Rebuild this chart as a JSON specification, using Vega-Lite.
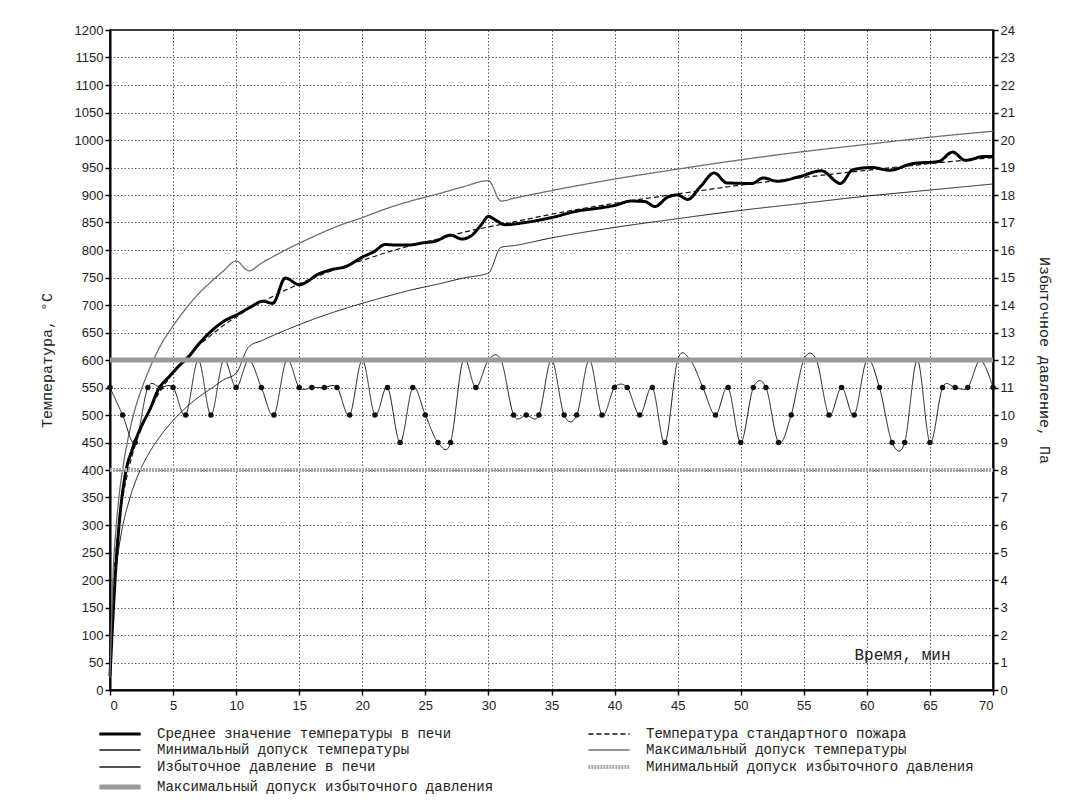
{
  "$schema": "https://vega.github.io/schema/vega-lite/v6.json",
  "width": 883,
  "height": 660,
  "autosize": {"type": "none"},
  "padding": {"left": 110, "top": 30, "right": 82, "bottom": 117},
  "background": "white",
  "datasets": {
    "series": [
      {"s": "a", "name": "Среднее значение температуры в печи"},
      {"s": "b", "name": "Температура стандартного пожара"},
      {"s": "c", "name": "Минимальный допуск температуры"},
      {"s": "d", "name": "Максимальный допуск температуры"},
      {"s": "e", "name": "Избыточное давление в печи"},
      {"s": "f", "name": "Минимальный допуск избыточного давления"},
      {"s": "g", "name": "Максимальный допуск избыточного давления"}
    ],
    "rows": [
      {"s":"a","t":0,"v":25},{"s":"a","t":0.4,"v":200},{"s":"a","t":0.8,"v":320},{"s":"a","t":1.2,"v":390},{"s":"a","t":1.8,"v":440},{"s":"a","t":2.5,"v":480},{"s":"a","t":3.2,"v":512},{"s":"a","t":3.8,"v":545},{"s":"a","t":4.7,"v":570},{"s":"a","t":5.5,"v":590},{"s":"a","t":6.2,"v":605},{"s":"a","t":7,"v":628},{"s":"a","t":8.1,"v":654},{"s":"a","t":9,"v":670},{"s":"a","t":10.2,"v":684},{"s":"a","t":11.2,"v":697},{"s":"a","t":12.1,"v":707},{"s":"a","t":12.9,"v":703},{"s":"a","t":13.9,"v":749},{"s":"a","t":15,"v":737},{"s":"a","t":16.6,"v":757},{"s":"a","t":17.5,"v":764},{"s":"a","t":18.7,"v":770},{"s":"a","t":20,"v":787},{"s":"a","t":21,"v":798},{"s":"a","t":21.8,"v":810},{"s":"a","t":22.7,"v":809},{"s":"a","t":23.7,"v":809},{"s":"a","t":24.8,"v":813},{"s":"a","t":25.8,"v":816},{"s":"a","t":27,"v":827},{"s":"a","t":27.9,"v":820},{"s":"a","t":28.7,"v":827},{"s":"a","t":29.4,"v":845},{"s":"a","t":30,"v":861},{"s":"a","t":30.6,"v":854},{"s":"a","t":31.3,"v":846},{"s":"a","t":32.9,"v":850},{"s":"a","t":35,"v":859},{"s":"a","t":37.1,"v":871},{"s":"a","t":39,"v":877},{"s":"a","t":40,"v":881},{"s":"a","t":41.3,"v":889},{"s":"a","t":42.4,"v":888},{"s":"a","t":43.2,"v":879},{"s":"a","t":44.2,"v":896},{"s":"a","t":45,"v":900},{"s":"a","t":45.8,"v":892},{"s":"a","t":46.8,"v":915},{"s":"a","t":47.9,"v":940},{"s":"a","t":48.9,"v":922},{"s":"a","t":50.9,"v":921},{"s":"a","t":51.8,"v":931},{"s":"a","t":52.9,"v":925},{"s":"a","t":54.6,"v":933},{"s":"a","t":56.4,"v":944},{"s":"a","t":57.9,"v":921},{"s":"a","t":58.9,"v":946},{"s":"a","t":60.4,"v":950},{"s":"a","t":61.8,"v":945},{"s":"a","t":63.6,"v":957},{"s":"a","t":65.7,"v":961},{"s":"a","t":66.8,"v":978},{"s":"a","t":67.8,"v":963},{"s":"a","t":69.3,"v":970},{"s":"a","t":70,"v":970},

      {"s":"b","t":0,"v":20},{"s":"b","t":0.25,"v":185},{"s":"b","t":0.5,"v":261},{"s":"b","t":0.75,"v":312},{"s":"b","t":1,"v":349},{"s":"b","t":1.5,"v":404},{"s":"b","t":2,"v":445},{"s":"b","t":2.5,"v":476},{"s":"b","t":3,"v":502},{"s":"b","t":4,"v":544},{"s":"b","t":5,"v":576},{"s":"b","t":6,"v":603},{"s":"b","t":7,"v":626},{"s":"b","t":8,"v":645},{"s":"b","t":9,"v":663},{"s":"b","t":10,"v":678},{"s":"b","t":11,"v":693},{"s":"b","t":12,"v":705},{"s":"b","t":14,"v":728},{"s":"b","t":16,"v":748},{"s":"b","t":18,"v":766},{"s":"b","t":20,"v":781},{"s":"b","t":22,"v":796},{"s":"b","t":24,"v":809},{"s":"b","t":26,"v":820},{"s":"b","t":28,"v":832},{"s":"b","t":30,"v":842},{"s":"b","t":32,"v":851},{"s":"b","t":35,"v":865},{"s":"b","t":40,"v":885},{"s":"b","t":45,"v":902},{"s":"b","t":50,"v":918},{"s":"b","t":55,"v":932},{"s":"b","t":60,"v":945},{"s":"b","t":65,"v":957},{"s":"b","t":70,"v":968},

      {"s":"c","t":0,"v":17},{"s":"c","t":0.25,"v":157},{"s":"c","t":0.5,"v":222},{"s":"c","t":0.75,"v":265},{"s":"c","t":1,"v":297},{"s":"c","t":1.5,"v":343},{"s":"c","t":2,"v":378},{"s":"c","t":2.5,"v":405},{"s":"c","t":3,"v":427},{"s":"c","t":4,"v":462},{"s":"c","t":5,"v":490},{"s":"c","t":6,"v":513},{"s":"c","t":7,"v":532},{"s":"c","t":8,"v":548},{"s":"c","t":9,"v":564},{"s":"c","t":10,"v":576},{"s":"c","t":11,"v":624},{"s":"c","t":12,"v":635},{"s":"c","t":14,"v":655},{"s":"c","t":16,"v":673},{"s":"c","t":18,"v":689},{"s":"c","t":20,"v":703},{"s":"c","t":22,"v":716},{"s":"c","t":24,"v":728},{"s":"c","t":26,"v":738},{"s":"c","t":28,"v":749},{"s":"c","t":30,"v":758},{"s":"c","t":31,"v":805},{"s":"c","t":32,"v":808},{"s":"c","t":35,"v":822},{"s":"c","t":40,"v":841},{"s":"c","t":45,"v":857},{"s":"c","t":50,"v":872},{"s":"c","t":55,"v":885},{"s":"c","t":60,"v":898},{"s":"c","t":65,"v":909},{"s":"c","t":70,"v":920},

      {"s":"d","t":0,"v":23},{"s":"d","t":0.25,"v":213},{"s":"d","t":0.5,"v":300},{"s":"d","t":0.75,"v":359},{"s":"d","t":1,"v":401},{"s":"d","t":1.5,"v":465},{"s":"d","t":2,"v":512},{"s":"d","t":2.5,"v":547},{"s":"d","t":3,"v":577},{"s":"d","t":4,"v":626},{"s":"d","t":5,"v":662},{"s":"d","t":6,"v":693},{"s":"d","t":7,"v":720},{"s":"d","t":8,"v":742},{"s":"d","t":9,"v":762},{"s":"d","t":10,"v":780},{"s":"d","t":11,"v":762},{"s":"d","t":12,"v":776},{"s":"d","t":14,"v":801},{"s":"d","t":16,"v":823},{"s":"d","t":18,"v":843},{"s":"d","t":20,"v":859},{"s":"d","t":22,"v":876},{"s":"d","t":24,"v":890},{"s":"d","t":26,"v":902},{"s":"d","t":28,"v":915},{"s":"d","t":30,"v":926},{"s":"d","t":31,"v":889},{"s":"d","t":32,"v":894},{"s":"d","t":35,"v":908},{"s":"d","t":40,"v":929},{"s":"d","t":45,"v":947},{"s":"d","t":50,"v":964},{"s":"d","t":55,"v":979},{"s":"d","t":60,"v":992},{"s":"d","t":65,"v":1005},{"s":"d","t":70,"v":1016},

      {"s":"e","t":0,"v":11},{"s":"e","t":1,"v":10},{"s":"e","t":2,"v":9},{"s":"e","t":3,"v":11},{"s":"e","t":4,"v":11},{"s":"e","t":5,"v":11},{"s":"e","t":6,"v":10},{"s":"e","t":7,"v":12},{"s":"e","t":8,"v":10},{"s":"e","t":9,"v":12},{"s":"e","t":10,"v":11},{"s":"e","t":11,"v":12},{"s":"e","t":12,"v":11},{"s":"e","t":13,"v":10},{"s":"e","t":14,"v":12},{"s":"e","t":15,"v":11},{"s":"e","t":16,"v":11},{"s":"e","t":17,"v":11},{"s":"e","t":18,"v":11},{"s":"e","t":19,"v":10},{"s":"e","t":20,"v":12},{"s":"e","t":21,"v":10},{"s":"e","t":22,"v":11},{"s":"e","t":23,"v":9},{"s":"e","t":24,"v":11},{"s":"e","t":25,"v":10},{"s":"e","t":26,"v":9},{"s":"e","t":27,"v":9},{"s":"e","t":28,"v":12},{"s":"e","t":29,"v":11},{"s":"e","t":30,"v":12},{"s":"e","t":31,"v":12},{"s":"e","t":32,"v":10},{"s":"e","t":33,"v":10},{"s":"e","t":34,"v":10},{"s":"e","t":35,"v":12},{"s":"e","t":36,"v":10},{"s":"e","t":37,"v":10},{"s":"e","t":38,"v":12},{"s":"e","t":39,"v":10},{"s":"e","t":40,"v":11},{"s":"e","t":41,"v":11},{"s":"e","t":42,"v":10},{"s":"e","t":43,"v":11},{"s":"e","t":44,"v":9},{"s":"e","t":45,"v":12},{"s":"e","t":46,"v":12},{"s":"e","t":47,"v":11},{"s":"e","t":48,"v":10},{"s":"e","t":49,"v":11},{"s":"e","t":50,"v":9},{"s":"e","t":51,"v":11},{"s":"e","t":52,"v":11},{"s":"e","t":53,"v":9},{"s":"e","t":54,"v":10},{"s":"e","t":55,"v":12},{"s":"e","t":56,"v":12},{"s":"e","t":57,"v":10},{"s":"e","t":58,"v":11},{"s":"e","t":59,"v":10},{"s":"e","t":60,"v":12},{"s":"e","t":61,"v":11},{"s":"e","t":62,"v":9},{"s":"e","t":63,"v":9},{"s":"e","t":64,"v":12},{"s":"e","t":65,"v":9},{"s":"e","t":66,"v":11},{"s":"e","t":67,"v":11},{"s":"e","t":68,"v":11},{"s":"e","t":69,"v":12},{"s":"e","t":70,"v":11},

      {"s":"f","t":0,"v":8},{"s":"f","t":70,"v":8},
      {"s":"g","t":0,"v":12},{"s":"g","t":70,"v":12}
    ]
  },
  "data": {"name": "rows"},
  "transform": [
    {"lookup": "s", "from": {"data": {"name": "series"}, "key": "s", "fields": ["name"]}}
  ],
  "encoding": {
    "x": {
      "field": "t", "type": "quantitative",
      "scale": {"domain": [0, 70], "nice": false, "zero": false},
      "axis": {
        "values": [0,5,10,15,20,25,30,35,40,45,50,55,60,65,70],
        "grid": true,
        "title": "Время, мин",
        "titleX": 792, "titleY": -36, "titleAlign": "center", "titleBaseline": "middle",
        "titleFontSize": 16,
        "labelPadding": 4
      }
    }
  },
  "layer": [
    {
      "encoding": {
        "y": {
          "field": "v", "type": "quantitative",
          "scale": {"domain": [0, 1200], "nice": false},
          "axis": {
            "orient": "left",
            "values": [0,50,100,150,200,250,300,350,400,450,500,550,600,650,700,750,800,850,900,950,1000,1050,1100,1150,1200],
            "format": "d",
            "grid": true,
            "title": "Температура, °С",
            "titleFontSize": 15,
            "titlePadding": 20
          }
        },
        "color": {"field": "name", "type": "nominal",
          "scale": {"domain": ["Среднее значение температуры в печи","Минимальный допуск температуры","Избыточное давление в печи","Максимальный допуск избыточного давления","Температура стандартного пожара","Максимальный допуск температуры","Минимальный допуск избыточного давления"],
                    "range": ["#000000","#1a1a1a","#1a1a1a","#9a9a9a","#111111","#6e6e6e","#a8a8a8"]},
          "legend": {
            "title": null,
            "encode": {"symbols": {"update": {"strokeWidth": {"signal": "datum.value == 'Среднее значение температуры в печи' ? 3 : datum.value == 'Максимальный допуск избыточного давления' ? 5 : datum.value == 'Минимальный допуск избыточного давления' ? 4 : 1.3"}}}}
          }},
        "strokeDash": {"field": "name", "type": "nominal",
          "scale": {"domain": ["Среднее значение температуры в печи","Минимальный допуск температуры","Избыточное давление в печи","Максимальный допуск избыточного давления","Температура стандартного пожара","Максимальный допуск температуры","Минимальный допуск избыточного давления"],
                    "range": [[1,0],[1,0],[1,0],[1,0],[5,3],[1,0],[2,1]]},
          "legend": {"title": null}}
      },
      "layer": [
        {"transform": [{"filter": "datum.s == 'a'"}], "mark": {"type": "line", "interpolate": "monotone", "strokeWidth": 3}},
        {"transform": [{"filter": "datum.s == 'b'"}], "mark": {"type": "line", "interpolate": "monotone", "strokeWidth": 1.2}},
        {"transform": [{"filter": "datum.s == 'c'"}], "mark": {"type": "line", "interpolate": "monotone", "strokeWidth": 1}},
        {"transform": [{"filter": "datum.s == 'd'"}], "mark": {"type": "line", "interpolate": "monotone", "strokeWidth": 1.3}}
      ]
    },
    {
      "transform": [{"filter": "indexof(['e','f','g'], datum.s) >= 0"}],
      "encoding": {
        "y": {
          "field": "v", "type": "quantitative",
          "scale": {"domain": [0, 24], "nice": false},
          "axis": {
            "orient": "right",
            "values": [0,1,2,3,4,5,6,7,8,9,10,11,12,13,14,15,16,17,18,19,20,21,22,23,24],
            "grid": false,
            "title": "Избыточное давление, Па",
            "titleFontSize": 15,
            "titlePadding": 22
          }
        }
      },
      "layer": [
        {
          "transform": [{"filter": "datum.s == 'e'"}],
          "mark": {"type": "line", "interpolate": "cardinal", "strokeWidth": 1},
          "encoding": {
            "color": {"field": "name", "type": "nominal", "legend": {"title": null}},
            "strokeDash": {"field": "name", "type": "nominal", "legend": {"title": null}}
          }
        },
        {
          "transform": [{"filter": "datum.s == 'e' && datum.v < 12"}],
          "mark": {"type": "point", "filled": true, "color": "#111111", "size": 30, "opacity": 1},
          "encoding": {}
        },
        {
          "transform": [{"filter": "datum.s == 'f'"}],
          "mark": {"type": "line", "strokeWidth": 4},
          "encoding": {
            "color": {"field": "name", "type": "nominal", "legend": {"title": null}},
            "strokeDash": {"field": "name", "type": "nominal", "legend": {"title": null}}
          }
        },
        {
          "transform": [{"filter": "datum.s == 'g'"}],
          "mark": {"type": "line", "strokeWidth": 5},
          "encoding": {
            "color": {"field": "name", "type": "nominal", "legend": {"title": null}},
            "strokeDash": {"field": "name", "type": "nominal", "legend": {"title": null}}
          }
        }
      ]
    }
  ],
  "resolve": {"scale": {"y": "independent"}, "axis": {"y": "independent"}},
  "config": {
    "view": {"stroke": "#000000", "strokeWidth": 1.5},
    "font": "Liberation Sans",
    "axis": {
      "labelFont": "Liberation Sans", "labelFontSize": 13, "labelColor": "#222222",
      "domainColor": "#000000", "domainWidth": 2,
      "tickColor": "#000000", "tickSize": 5, "tickWidth": 1.5,
      "gridColor": "#333333", "gridDash": [1.5, 2], "gridWidth": 0.8,
      "titleFont": "Liberation Mono", "titleFontWeight": "normal", "titleFontSize": 14, "titleColor": "#222222"
    },
    "legend": {
      "orient": "none",
      "legendX": 3,
      "legendY": 697,
      "columns": 2,
      "columnPadding": 86,
      "rowPadding": 2,
      "symbolType": "stroke",
      "symbolSize": 1700,
      "labelFont": "Liberation Mono",
      "labelFontSize": 14,
      "labelColor": "#222222",
      "labelLimit": 600,
      "labelOffset": 30
    }
  }
}
